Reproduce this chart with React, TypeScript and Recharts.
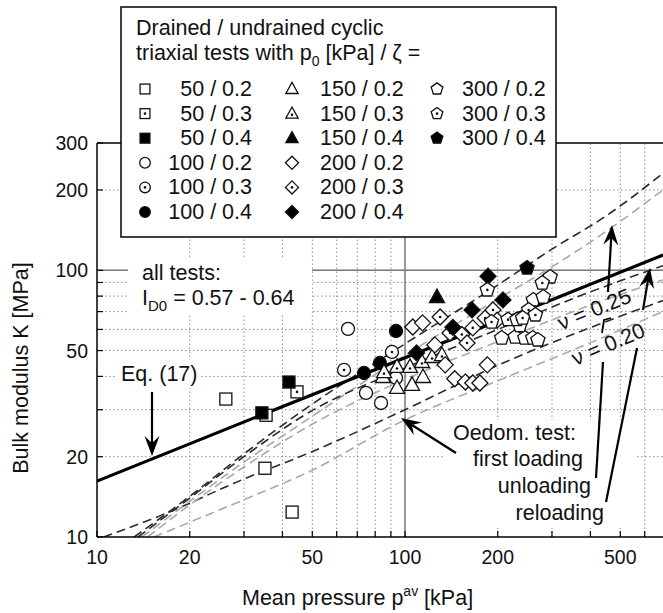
import React from "react";
import { ComposedChart, XAxis, YAxis, Line, Scatter, ReferenceLine } from "recharts";

const FONT = "'Liberation Sans', Arial, Helvetica, sans-serif";
const FS = 21.5;

// Axes (log-log)
const X_DOMAIN = [10, 688];
const Y_DOMAIN = [10, 300];
const X_TICKS = [10, 20, 30, 40, 50, 60, 70, 80, 90, 100, 200, 300, 400, 500, 600];
const X_LABELED = [10, 20, 50, 100, 200, 500];
const Y_TICKS = [10, 20, 30, 40, 50, 60, 70, 80, 90, 100, 200, 300];
const Y_LABELED = [10, 20, 50, 100, 200, 300];
const X_GRID = [20, 30, 40, 50, 60, 70, 80, 90, 200, 300, 400, 500, 600];
const Y_GRID = [20, 30, 40, 50, 60, 70, 80, 90, 200];

// Test results [p_av kPa, K MPa], p0 / zeta
const SQ_02 = [[26.2, 32.9], [35.1, 18.1], [43.0, 12.4]];
const SQ_03 = [[44.6, 35.0], [35.4, 28.6]];
const SQ_04 = [[42.0, 38.1], [34.3, 29.2]];
const CI_02 = [[65.3, 60.3], [74.7, 34.7], [83.6, 31.8], [93.5, 39.5]];
const CI_03 = [[63.4, 42.3], [90.7, 49.4]];
const CI_04 = [[73.6, 41.2], [82.9, 44.9], [93.5, 59.2]];
const TR_02 = [[84.8, 39.8], [94.2, 36.2], [105.4, 37.2], [114.4, 39.8]];
const TR_03 = [[85.5, 41.5], [94.2, 43.4], [103.8, 43.4], [113.5, 45.3], [122.4, 47.3], [131.8, 48.1]];
const TR_04 = [[127, 79.4]];
const DI_02 = [[106, 61.3], [114, 63.5], [125, 52.5], [135, 44.2], [145, 39.2], [157, 38.1], [166, 37.8], [175, 37.8], [185, 44.2]];
const DI_03 = [[130, 66.8], [140, 58.2], [153, 57.4], [159, 53.4], [166, 60.8], [182, 66.2], [193, 71], [199, 65]];
const DI_04 = [[109, 49], [143, 61.1], [165, 71], [186, 95], [208, 77.4]];
const PE_02 = [[206, 55.7], [228, 56.2], [245, 55.7], [260, 55.7], [270, 54.8], [296, 94.4], [261, 77.4], [281, 79.4], [236, 62]];
const PE_03 = [[279, 89.6], [185, 84.4], [216, 65.3], [231, 65.3], [252, 71], [241, 66.2], [191, 64], [265, 68]];
const PE_04 = [[249, 102]];

// Curves
const EQ17 = [[10, 16.2], [35, 29], [100, 47], [300, 77.5], [688, 114]];
const FL_025 = [[10.5, 10], [16, 12], [30, 16.5], [48, 20.5], [100, 30], [200, 44], [400, 61], [688, 77]];
const FL_020 = [[15.3, 10], [30, 13.8], [48, 17.4], [100, 27.5], [200, 38.5], [400, 53.5], [688, 70]];
const UL_025 = [[13.2, 10], [20, 14.2], [30, 20.5], [48, 30.5], [100, 53], [200, 88], [300, 120], [450, 160], [688, 231]];
const UL_020 = [[14, 10], [20, 13.6], [30, 19.1], [48, 27.5], [100, 48], [200, 78], [300, 103], [450, 140], [688, 200]];
const RL_025 = [[13.6, 10], [20, 14], [30, 20], [48, 29], [100, 43], [200, 60], [400, 83], [688, 104]];
const RL_020 = [[14.6, 10], [20, 13.2], [30, 18.3], [48, 25.8], [100, 39], [200, 54], [400, 74], [688, 92]];

const toPts = (arr: number[][]) => arr.map(([p, K]) => ({ p, K }));

type Kind = "square" | "circle" | "triangle" | "diamond" | "pentagon";
type Mode = "open" | "dot" | "filled";

const SERIES: { label: string; kind: Kind; mode: Mode; data: number[][] }[] = [
  { label: "50 / 0.2", kind: "square", mode: "open", data: SQ_02 },
  { label: "50 / 0.3", kind: "square", mode: "dot", data: SQ_03 },
  { label: "50 / 0.4", kind: "square", mode: "filled", data: SQ_04 },
  { label: "100 / 0.2", kind: "circle", mode: "open", data: CI_02 },
  { label: "100 / 0.3", kind: "circle", mode: "dot", data: CI_03 },
  { label: "100 / 0.4", kind: "circle", mode: "filled", data: CI_04 },
  { label: "150 / 0.2", kind: "triangle", mode: "open", data: TR_02 },
  { label: "150 / 0.3", kind: "triangle", mode: "dot", data: TR_03 },
  { label: "150 / 0.4", kind: "triangle", mode: "filled", data: TR_04 },
  { label: "200 / 0.2", kind: "diamond", mode: "open", data: DI_02 },
  { label: "200 / 0.3", kind: "diamond", mode: "dot", data: DI_03 },
  { label: "200 / 0.4", kind: "diamond", mode: "filled", data: DI_04 },
  { label: "300 / 0.2", kind: "pentagon", mode: "open", data: PE_02 },
  { label: "300 / 0.3", kind: "pentagon", mode: "dot", data: PE_03 },
  { label: "300 / 0.4", kind: "pentagon", mode: "filled", data: PE_04 },
];

// oedometer: first loading / unloading / reloading, black = nu 0.25, grey = nu 0.20
const CURVES = [
  { key: "fl025", data: FL_025, color: "#2b2b2b" },
  { key: "fl020", data: FL_020, color: "#a9a9a9" },
  { key: "ul025", data: UL_025, color: "#2b2b2b" },
  { key: "ul020", data: UL_020, color: "#a9a9a9" },
  { key: "rl025", data: RL_025, color: "#2b2b2b" },
  { key: "rl020", data: RL_020, color: "#a9a9a9" },
];

const pts = (list: number[][]) => list.map((q) => q.join(",")).join(" ");

function marker(kind: Kind, mode: Mode, cx: number, cy: number, s = 1) {
  const st = { fill: mode === "filled" ? "#000" : "#fff", stroke: "#111", strokeWidth: 1.3 };
  let shape: React.ReactNode = null;
  let dy = 0;
  if (kind === "square") shape = <rect x={cx - 6 * s} y={cy - 6 * s} width={12 * s} height={12 * s} {...st} />;
  if (kind === "circle") shape = <circle cx={cx} cy={cy} r={6.5 * s} {...st} />;
  if (kind === "triangle") {
    shape = <polygon points={pts([[cx, cy - 8 * s], [cx - 7.5 * s, cy + 5.5 * s], [cx + 7.5 * s, cy + 5.5 * s]])} {...st} />;
    dy = 1.5 * s;
  }
  if (kind === "diamond") shape = <polygon points={pts([[cx, cy - 8 * s], [cx + 8 * s, cy], [cx, cy + 8 * s], [cx - 8 * s, cy]])} {...st} />;
  if (kind === "pentagon") {
    const r = 7.5 * s;
    const p = [0, 1, 2, 3, 4].map((k) => {
      const a = ((-90 + 72 * k) * Math.PI) / 180;
      return [cx + r * Math.cos(a), cy + r * Math.sin(a)];
    });
    shape = <polygon points={pts(p)} {...st} />;
  }
  return (
    <g>
      {shape}
      {mode === "dot" && <circle cx={cx} cy={cy + dy} r={1.3} fill="#111" />}
    </g>
  );
}

const XTick = ({ x, y, payload }: any) => (
  <g>
    <line x1={x} y1={y} x2={x} y2={y - 6} stroke="#000" strokeWidth={1.2} />
    {X_LABELED.includes(payload.value) && (
      <text x={x} y={y + 27} textAnchor="middle" fontSize={19.5} fontFamily={FONT} fill="#111">
        {payload.value}
      </text>
    )}
  </g>
);

const YTick = ({ x, y, payload }: any) => (
  <g>
    <line x1={x} y1={y} x2={x + 6} y2={y} stroke="#000" strokeWidth={1.2} />
    {Y_LABELED.includes(payload.value) && (
      <text x={x - 9} y={y + 7} textAnchor="end" fontSize={19.5} fontFamily={FONT} fill="#111">
        {payload.value}
      </text>
    )}
  </g>
);

function arrow(x1: number, y1: number, x2: number, y2: number) {
  const dx = x2 - x1, dy = y2 - y1;
  const L = Math.hypot(dx, dy);
  const ux = dx / L, uy = dy / L;
  const len = 20, half = 7.5, notch = 13;
  const bx = x2 - ux * len, by = y2 - uy * len;
  const nx = x2 - ux * notch, ny = y2 - uy * notch;
  return (
    <g>
      <line x1={x1} y1={y1} x2={nx} y2={ny} stroke="#000" strokeWidth={2.2} />
      <polygon points={pts([[x2, y2], [bx - uy * half, by + ux * half], [nx, ny], [bx + uy * half, by - ux * half]])} fill="#000" />
    </g>
  );
}

function Overlay() {
  const rowY = (r: number) => 89 + r * 24.6;
  const colSym = [145, 292, 437];
  return (
    <svg width={663} height={613} style={{ position: "absolute", left: 0, top: 0, pointerEvents: "none" }} fontFamily={FONT}>
      {/* legend */}
      <rect x={121} y={7} width={435} height={230} fill="#fff" stroke="#000" strokeWidth={1.5} />
      <text x={136} y={35} fontSize={FS} fill="#111">Drained / undrained cyclic</text>
      <text x={136} y={60} fontSize={FS} fill="#111">
        triaxial tests with p<tspan fontSize={14} dy={6}>0</tspan>
        <tspan dy={-6}> [kPa] / ζ =</tspan>
      </text>
      {SERIES.map((s, i) => {
        const col = Math.floor(i / 6);
        const row = i % 6;
        const y = rowY(row);
        return (
          <g key={s.label}>
            {marker(s.kind, s.mode, colSym[col], y, 0.82)}
            <text
              x={col === 0 ? 252 : col === 1 ? 320 : 462}
              y={y + 7}
              textAnchor={col === 0 ? "end" : "start"}
              fontSize={FS}
              fill="#111"
            >
              {s.label}
            </text>
          </g>
        );
      })}

      {/* all tests note */}
      <rect x={128} y={257} width={184} height={56} fill="#fff" />
      <text x={142} y={280} fontSize={FS} fill="#111">all tests:</text>
      <text x={142} y={305} fontSize={FS} fill="#111">
        I<tspan fontSize={15} dy={6}>D0</tspan>
        <tspan dy={-6}> = 0.57 - 0.64</tspan>
      </text>

      {/* Eq. (17) */}
      <rect x={117} y={360} width={82} height={28} fill="#fff" />
      <text x={121} y={381} fontSize={FS} fill="#111">Eq. (17)</text>
      {arrow(152, 392, 152, 456)}

      {/* Oedometer notes */}
      <rect x={445} y={420} width={192} height={108} fill="#fff" />
      <text x={576} y={440} fontSize={FS} textAnchor="end" fill="#111">Oedom. test:</text>
      <text x={583} y={466} fontSize={FS} textAnchor="end" fill="#111">first loading</text>
      <text x={591} y={493} fontSize={FS} textAnchor="end" fill="#111">unloading</text>
      <text x={604} y={520} fontSize={FS} textAnchor="end" fill="#111">reloading</text>
      {arrow(456, 453, 401, 418)}
      <line x1={596} y1={478} x2={603} y2={362} stroke="#000" strokeWidth={2.2} />
      {arrow(608, 292, 612, 225)}
      <line x1={606} y1={502} x2={637} y2={348} stroke="#000" strokeWidth={2.2} />
      {arrow(643, 310, 650, 268)}

      <text transform="translate(597,316) rotate(-22)" textAnchor="middle" fontSize={FS} fill="#111">ν = 0.25</text>
      <text transform="translate(611,351) rotate(-23)" textAnchor="middle" fontSize={FS} fill="#111">ν = 0.20</text>
      <polyline points="602,333 604,320 611,318" fill="none" stroke="#000" strokeWidth={1.8} />

      {/* axis titles */}
      <text transform="translate(28,368) rotate(-90)" textAnchor="middle" fontSize={FS} fill="#111">
        Bulk modulus K [MPa]
      </text>
      <text x={242} y={605} fontSize={FS} fill="#111">
        Mean pressure p<tspan fontSize={14} dy={-9}>av</tspan>
        <tspan dy={9}> [kPa]</tspan>
      </text>
    </svg>
  );
}

export default function App() {
  return (
    <div style={{ position: "absolute", left: 0, top: 0, width: 663, height: 613, background: "#fff", fontFamily: FONT }}>
      <ComposedChart width={663} height={613} margin={{ top: 143, right: 0, bottom: 26, left: 37 }}>
        <XAxis
          type="number"
          dataKey="p"
          scale="log"
          domain={X_DOMAIN}
          allowDataOverflow
          ticks={X_TICKS}
          interval={0}
          tick={<XTick />}
          tickLine={false}
          tickSize={0}
          tickMargin={0}
          height={50}
          axisLine={{ stroke: "#000", strokeWidth: 1.5 }}
        />
        <YAxis
          type="number"
          dataKey="K"
          scale="log"
          domain={Y_DOMAIN}
          allowDataOverflow
          ticks={Y_TICKS}
          interval={0}
          tick={<YTick />}
          tickLine={false}
          tickSize={0}
          tickMargin={0}
          width={60}
          axisLine={{ stroke: "#000", strokeWidth: 1.5 }}
        />
        {X_GRID.map((v) => (
          <ReferenceLine key={"gx" + v} x={v} stroke="#8f8f8f" strokeWidth={1} strokeDasharray="1.5 2.5" />
        ))}
        {Y_GRID.map((v) => (
          <ReferenceLine key={"gy" + v} y={v} stroke="#8f8f8f" strokeWidth={1} strokeDasharray="1.5 2.5" />
        ))}
        <ReferenceLine x={100} stroke="#777" strokeWidth={1.5} />
        <ReferenceLine y={100} stroke="#777" strokeWidth={1.5} />
        <ReferenceLine y={300} stroke="#000" strokeWidth={1.5} />

        {CURVES.map((c) => (
          <Line
            key={c.key}
            data={toPts(c.data)}
            dataKey="K"
            type="monotone"
            stroke={c.color}
            strokeWidth={1.6}
            strokeDasharray="9 5"
            dot={false}
            activeDot={false}
            isAnimationActive={false}
          />
        ))}
        <Line
          data={toPts(EQ17)}
          dataKey="K"
          type="linear"
          stroke="#000"
          strokeWidth={3.2}
          dot={false}
          activeDot={false}
          isAnimationActive={false}
        />
        {SERIES.map((s) => (
          <Scatter
            key={s.label}
            data={toPts(s.data)}
            dataKey="K"
            isAnimationActive={false}
            shape={(props: any) => marker(s.kind, s.mode, props.cx, props.cy)}
          />
        ))}
      </ComposedChart>
      <Overlay />
    </div>
  );
}
